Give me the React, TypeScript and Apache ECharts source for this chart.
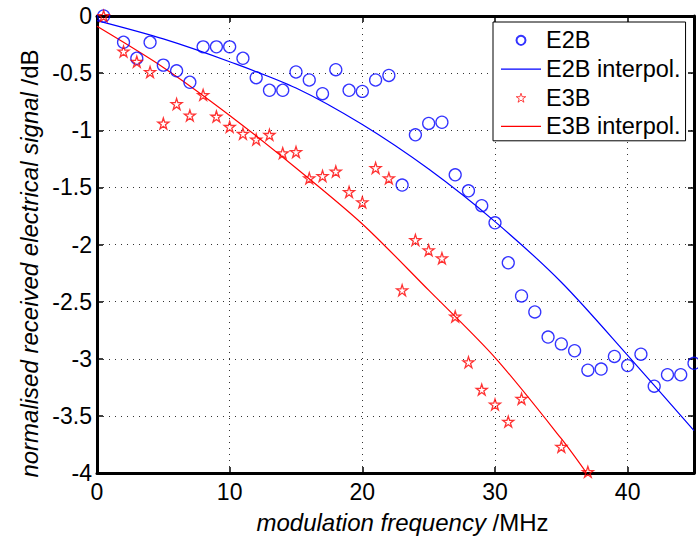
import React, { useEffect, useRef } from "react";
import * as echarts from "echarts";

const FONT = "'Liberation Sans', Arial, Helvetica, sans-serif";

// Measured data (modulation frequency in MHz, normalised signal in dB)
const e2bX = [0.5, 2, 3, 4, 5, 6, 7, 8, 9, 10, 11, 12, 13, 14, 15, 16, 17, 18, 19, 20, 21, 22, 23, 24, 25, 26, 27, 28, 29, 30, 31, 32, 33, 34, 35, 36, 37, 38, 39, 40, 41, 42, 43, 44, 45];
const e2bY = [0, -0.23, -0.37, -0.23, -0.43, -0.48, -0.58, -0.27, -0.27, -0.27, -0.37, -0.54, -0.65, -0.65, -0.49, -0.56, -0.68, -0.47, -0.65, -0.66, -0.56, -0.52, -1.48, -1.04, -0.94, -0.93, -1.39, -1.53, -1.66, -1.81, -2.16, -2.45, -2.59, -2.81, -2.87, -2.93, -3.10, -3.09, -2.98, -3.06, -2.96, -3.24, -3.14, -3.14, -3.04];

const e3bX = [0.5, 2, 3, 4, 5, 6, 7, 8, 9, 10, 11, 12, 13, 14, 15, 16, 17, 18, 19, 20, 21, 22, 23, 24, 25, 26, 27, 28, 29, 30, 31, 32, 35, 37];
const e3bY = [0, -0.31, -0.40, -0.49, -0.94, -0.77, -0.87, -0.69, -0.88, -0.97, -1.03, -1.08, -1.04, -1.20, -1.19, -1.42, -1.40, -1.36, -1.54, -1.63, -1.33, -1.42, -2.40, -1.96, -2.05, -2.12, -2.63, -3.03, -3.27, -3.40, -3.55, -3.35, -3.77, -3.99];

// Interpolation curves
const e2bFitX = [0, 5, 10, 15, 20, 25, 30, 35, 40, 45];
const e2bFitY = [-0.04, -0.20, -0.40, -0.63, -0.95, -1.34, -1.80, -2.33, -2.97, -3.63];
const e3bFitX = [0, 5, 10, 15, 20, 25, 30, 35, 36.9];
const e3bFitY = [-0.09, -0.45, -0.87, -1.33, -1.82, -2.40, -2.99, -3.70, -4.0];

const xTicks = { min: 0, max: 45, interval: 10 };
const yTicks = { min: -4, max: 0, interval: 0.5 };

const seriesNames = ["E2B", "E2B interpol.", "E3B", "E3B interpol."];

const STAR = "path://M0,-100L22.45,-30.9L95.1,-30.9L36.3,11.8L58.8,80.9L0,38.2L-58.8,80.9L-36.3,11.8L-95.1,-30.9L-22.45,-30.9Z";
const LINE_ICON = "path://M0,0L40,0L40,1.2L0,1.2Z";

const zip = (xs: number[], ys: number[]) => xs.map((x, i) => [x, ys[i]]);

export default function App() {
  const ref = useRef<HTMLDivElement>(null);
  useEffect(() => {
    if (!ref.current) return;
    const chart = echarts.init(ref.current, null, { renderer: "svg" });
    const axisLine = { show: true, onZero: false, lineStyle: { color: "#000", width: 3 } };
    const axisTick = { show: true, inside: true, length: 6, lineStyle: { color: "#000", width: 1.5 } };
    const split = { show: true, lineStyle: { color: "#333", type: [1, 5], width: 1 } };
    const nameRich = {
      i: { fontSize: 24, fontStyle: "italic", color: "#000", fontFamily: FONT },
      n: { fontSize: 24, color: "#000", fontFamily: FONT },
    };
    const option: any = {
      animation: false,
      backgroundColor: "#fff",
      textStyle: { fontFamily: FONT },
      grid: { left: 97, right: 4, top: 16, bottom: 53 },
      legend: {
        orient: "vertical",
        left: 493,
        top: 22,
        data: [
          { name: seriesNames[0] },
          { name: seriesNames[1], icon: LINE_ICON },
          { name: seriesNames[2], itemStyle: { borderWidth: 0.9 } },
          { name: seriesNames[3], icon: LINE_ICON },
        ],
        itemWidth: 40,
        itemHeight: 9,
        itemGap: 0,
        padding: [4, 5, 0, 8],
        backgroundColor: "#fff",
        borderColor: "#000",
        borderWidth: 1,
        borderRadius: 0,
        textStyle: { fontSize: 23.5, color: "#000", fontFamily: FONT, lineHeight: 28.7 },
        selectedMode: false,
      },
      xAxis: [
        {
          type: "value",
          ...xTicks,
          position: "bottom",
          axisLine,
          axisTick,
          axisLabel: { color: "#000", fontSize: 23, margin: 7, showMaxLabel: false, fontFamily: FONT },
          splitLine: split,
          name: "{i|modulation frequency }{n|/MHz}",
          nameLocation: "middle",
          nameGap: 37,
          nameTextStyle: { rich: nameRich, padding: [0, 0, 0, 14] },
        },
        {
          type: "value",
          ...xTicks,
          position: "top",
          axisLine,
          axisTick,
          axisLabel: { show: false },
          splitLine: { show: false },
        },
      ],
      yAxis: [
        {
          type: "value",
          ...yTicks,
          position: "left",
          axisLine,
          axisTick,
          axisLabel: { color: "#000", fontSize: 23, margin: 5, fontFamily: FONT },
          splitLine: split,
          name: "{i|normalised received electrical signal }{n|/dB}",
          nameLocation: "middle",
          nameGap: 50,
          nameTextStyle: { rich: nameRich, padding: [0, 38, 0, 0] },
        },
        {
          type: "value",
          ...yTicks,
          position: "right",
          axisLine,
          axisTick,
          axisLabel: { show: false },
          splitLine: { show: false },
        },
      ],
      series: [
        {
          name: seriesNames[0],
          type: "scatter",
          data: zip(e2bX, e2bY),
          symbol: "circle",
          symbolSize: 12,
          itemStyle: { color: "rgba(255,255,255,0)", borderColor: "#0000ff", borderWidth: 1.3 },
          emphasis: { disabled: true },
          silent: true,
          z: 3,
        },
        {
          name: seriesNames[1],
          type: "line",
          data: zip(e2bFitX, e2bFitY),
          smooth: 0.3,
          symbol: "none",
          lineStyle: { color: "#0000ff", width: 1.2 },
          itemStyle: { color: "#0000ff" },
          emphasis: { disabled: true },
          silent: true,
          z: 2,
        },
        {
          name: seriesNames[2],
          type: "scatter",
          data: zip(e3bX, e3bY),
          symbol: STAR,
          symbolSize: 11,
          itemStyle: { color: "rgba(255,255,255,0)", borderColor: "#ff0000", borderWidth: 1.3 },
          emphasis: { disabled: true },
          silent: true,
          z: 3,
        },
        {
          name: seriesNames[3],
          type: "line",
          data: zip(e3bFitX, e3bFitY),
          smooth: 0.3,
          symbol: "none",
          lineStyle: { color: "#ff0000", width: 1.2 },
          itemStyle: { color: "#ff0000" },
          emphasis: { disabled: true },
          silent: true,
          z: 2,
        },
      ],
    };
    chart.setOption(option);
    return () => chart.dispose();
  }, []);
  return (
    <div
      ref={ref}
      style={{ position: "fixed", left: 0, top: 0, width: 698, height: 539, background: "#fff" }}
    />
  );
}
